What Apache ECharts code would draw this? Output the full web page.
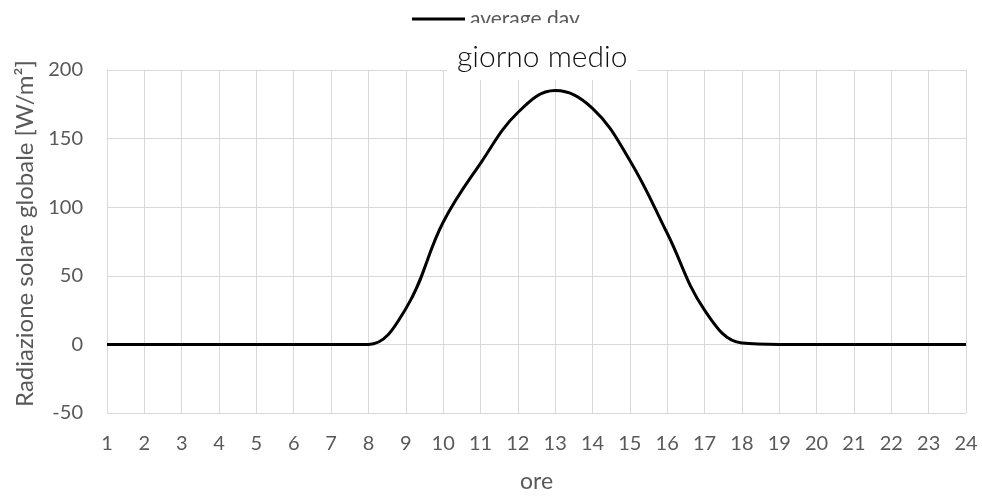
<!DOCTYPE html>
<html>
<head>
<meta charset="utf-8">
<script src="https://cdn.jsdelivr.net/npm/echarts@6/dist/echarts.min.js"></script>
<style>html,body{margin:0;padding:0;background:#fff}#c{width:982px;height:496px}</style>
</head>
<body>
<div id="c"></div>
<script>
const hours = ['1','2','3','4','5','6','7','8','9','10','11','12','13','14','15','16','17','18','19','20','21','22','23','24'];
const averageDay = [0,0,0,0,0,0,0,0,26,89,132,169,185,172,134,81,25,1,0,0,0,0,0,0];
const yTicks = {min:-50, max:200, interval:50};
const seriesName = 'average day';
const chartTitle = 'giorno medio';
const xName = 'ore';
const yName = 'Radiazione solare globale [W/m²]';

const FONT = 'Lato';
const chart = echarts.init(document.getElementById('c'));
chart.setOption({
  animation:false,
  backgroundColor:'#fff',
  title:{
    text:chartTitle, left:447, top:23,
    padding:[19,10,8,10],
    backgroundColor:'#fff',
    textStyle:{fontFamily:FONT, fontSize:30, lineHeight:30, fontWeight:300, color:'#111'},
    z:10
  },
  legend:{
    data:[seriesName], left:407, top:3, itemWidth:53, itemHeight:3,
    icon:'rect',
    textStyle:{fontFamily:FONT, fontSize:21, lineHeight:22, color:'#595959'}
  },
  grid:{left:107, right:16, top:70, bottom:83, containLabel:false, outerBoundsMode:'none'},
  xAxis:{
    type:'category', data:hours, boundaryGap:false,
    name:xName, nameLocation:'middle', nameGap:57,
    nameTextStyle:{fontFamily:FONT, fontSize:23, color:'#595959'},
    axisTick:{show:false},
    axisLine:{show:true, lineStyle:{color:'#d9d9d9', width:1}},
    axisLabel:{fontFamily:FONT, fontSize:20, color:'#595959', margin:21},
    splitLine:{show:true, lineStyle:{color:'#d9d9d9', width:1}}
  },
  yAxis:{
    type:'value', min:yTicks.min, max:yTicks.max, interval:yTicks.interval,
    name:yName, nameLocation:'middle', nameGap:70,
    nameTextStyle:{fontFamily:FONT, fontSize:24, color:'#595959', padding:[0,0,0,16]},
    axisLine:{show:true, lineStyle:{color:'#d9d9d9', width:1}},
    axisTick:{show:false},
    axisLabel:{fontFamily:FONT, fontSize:20, color:'#595959', margin:24},
    splitLine:{show:true, lineStyle:{color:'#d9d9d9', width:1}}
  },
  series:[{
    name:seriesName, type:'line', data:averageDay, smooth:0.4,
    symbol:'none', lineStyle:{color:'#000', width:3}, itemStyle:{color:'#000'}
  }]
});
</script>
</body>
</html>
